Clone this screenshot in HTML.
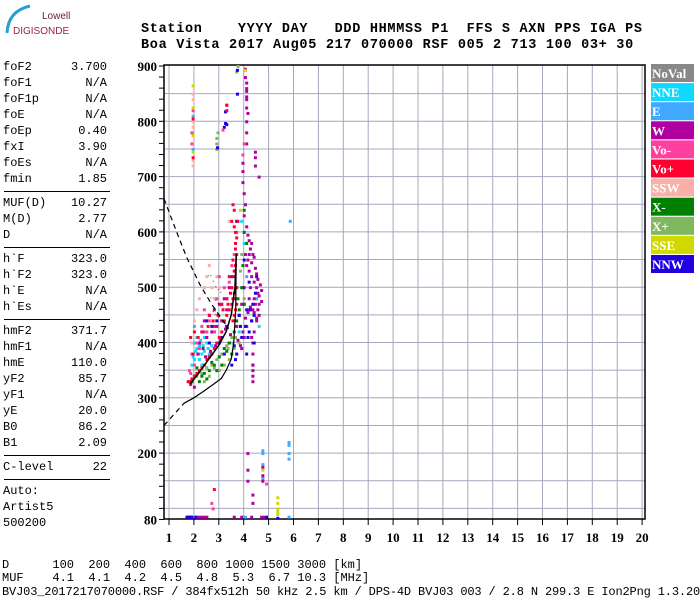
<!DOCTYPE html>
<html><head><meta charset="utf-8"><style>
body{margin:0;background:#fff;width:700px;height:600px;overflow:hidden;position:relative;font-family:"Liberation Mono",monospace}
.t{position:absolute;font-size:12px;color:#000;white-space:pre;line-height:12px}
.hd{position:absolute;font-family:"Liberation Mono",monospace;font-weight:bold;font-size:13.5px;white-space:pre;left:141px;letter-spacing:0.7px}
.hr{position:absolute;left:4px;width:106px;height:1px;background:#000}
</style></head><body>
<div style="position:absolute;left:2px;top:3px;width:80px;height:36px">
<svg width="80" height="36"><path d="M5 30 Q6 8 28 3" stroke="#2aa0d0" stroke-width="3" fill="none"/>
<text x="40" y="16" font-family="Liberation Sans" font-size="10" fill="#6a2040">Lowell</text>
<text x="11" y="31" font-family="Liberation Sans" font-size="10" fill="#9a2050">DIGISONDE</text></svg></div>
<div class="hd" style="top:22px">Station    YYYY DAY   DDD HHMMSS P1  FFS S AXN PPS IGA PS</div>
<div class="hd" style="top:38px">Boa Vista 2017 Aug05 217 070000 RSF 005 2 713 100 03+ 30</div>
<div id="left"></div>
<svg id="chart" width="700" height="600" style="position:absolute;left:0;top:0"></svg>
<div class="t" style="left:2px;top:559px">D      100  200  400  600  800 1000 1500 3000 [km]</div>
<div class="t" style="left:2px;top:572px">MUF    4.1  4.1  4.2  4.5  4.8  5.3  6.7 10.3 [MHz]</div>
<div class="t" style="left:2px;top:586px;letter-spacing:-0.15px">BVJ03_2017217070000.RSF / 384fx512h 50 kHz 2.5 km / DPS-4D BVJ03 003 / 2.8 N 299.3 E Ion2Png 1.3.20</div>
<script>
const paramNames=["foF2","foF1","foF1p","foE","foEp","fxI","foEs","fmin","MUF(D)","M(D)","D","h`F","h`F2","h`E","h`Es","hmF2","hmF1","hmE","yF2","yF1","yE","B0","B1","C-level","Auto:","Artist5","500200"];
const paramVals=["3.700","N/A","N/A","N/A","0.40","3.90","N/A","1.85","10.27","2.77","N/A","323.0","323.0","N/A","N/A","371.7","N/A","110.0","85.7","N/A","20.0","86.2","2.09","22","","",""];
const paramY=[61,77,93,109,125,141,157,173,197,213,229,253,269,285,301,325,341,357,373,389,405,421,437,461,485,501,517];
const left=document.getElementById('left');
paramNames.forEach((n,i)=>{
 const a=document.createElement('div');a.className='t';a.style.left='3px';a.style.top=paramY[i]+'px';a.textContent=n;
 
 
 left.appendChild(a);
 const b=document.createElement('div');b.className='t';b.style.left='40px';b.style.width='67px';b.style.textAlign='right';b.style.top=paramY[i]+'px';b.textContent=paramVals[i];
 
 
 left.appendChild(b);
});
[191,247,319,455,479].forEach(y=>{const h=document.createElement('div');h.className='hr';h.style.top=y+'px';
 
 
 left.appendChild(h);});

const X0=169,XS=24.9,Y0=66,YS=0.553;
const fx=f=>X0+(f-1)*XS, hy=h=>Y0+(900-h)*YS;
const xTicks=[1,2,3,4,5,6,7,8,9,10,11,12,13,14,15,16,17,18,19,20];
const yTicks=[900,800,700,600,500,400,300,200];
const wF=[4.05,4.05,4.1,4.1,4.1,4.1,4.15,4.45,4.45,4.45,4.6,3.95,3.95,3.95,4.0,4.05,4.0,4.1,4.15,4.2,4.3,4.35,4.05,4.1,4.2,4.3,4.4,4.5,4.55,4.45,4.35,4.55,4.6,4.2,4.0,3.9,3.8,3.7,4.3,4.4,4.35,4.35,4.35,4.35,4.0,3.9,4.1,3.5,3.4,3.2,3.0,2.8,2.6,2.4,2.3,2.2,3.1,2.9,2.7,2.5,3.3,3.6,4.15,4.15,4.15,4.75,4.75,4.75,4.35,4.35,1.8,2.1,2.2,3.6,3.9,4.3,4.7,4.8,2.5,4.25,4.5,4.6,4.4,4.2,4.3,4.1,4.1,4.1,4.1,4.1,4.15,4.2,4.25,4.3,4.4,4.45,4.5,4.55,4.65,4.7,4.7,4.6,4.5,4.4,4.25,4.15,4.05,3.95,3.85,3.75,3.45,3.25,3.05,2.85,2.65,2.45,2.35,2.15,4.35,4.35,4.35,2.0,1.9,2.3,2.4];
const wH=[895,880,870,855,840,825,815,745,735,720,700,725,710,690,670,650,630,610,595,585,580,560,560,540,530,520,510,500,490,470,460,460,450,480,500,470,450,430,440,420,400,380,360,340,410,390,430,520,500,480,470,460,450,440,420,400,440,430,420,410,460,480,200,170,150,175,160,150,125,110,85,85,85,85,85,85,85,85,85,500,440,470,480,460,410,860,845,800,780,760,550,560,570,545,555,535,525,515,505,495,475,485,445,455,465,455,445,420,395,405,415,425,405,395,385,375,390,380,360,350,330,320,85,85,85,85];
const nnwF=[3.73,3.73,2.93,3.25,3.3,3.2,3.25,4.05,4.2,4.3,3.9,3.7,3.6,4.0,3.8,4.1,4.4,3.5,3.2,3.0,2.8,2.6,3.3,2.5,4.2,4.5,4.0,3.7,4.4,1.7,1.8,1.9,5.35,4.9,4.1,3.95,4.25,4.35,3.85,4.15,3.65,2.7,2.9,3.1,3.4,4.45,1.75,1.85,2.05];
const nnwH=[893,850,753,797,795,790,818,430,420,440,410,380,395,470,450,380,400,360,380,400,420,400,430,440,510,520,550,620,450,85,85,85,83,85,460,500,460,470,430,410,370,430,440,410,400,490,85,85,85];
const vpF=[3.65,3.65,3.7,3.65,3.6,3.7,3.6,3.55,3.5,3.7,3.4,3.3,3.2,3.1,3.0,2.9,2.8,2.7,2.6,2.5,2.4,2.3,2.2,2.1,2.0,1.9,1.8,1.85,2.0,2.6,3.3,3.3,3.5,3.55,3.6,1.95,1.95,2.8,1.85,3.1,2.8,3.65,3.75,1.75,3.6,3.7,3.65,3.55,3.6,3.45,3.35,3.15,2.95,2.75,2.55,2.35,2.15,1.95,3.5,3.4,3.3,3.6,3.55];
const vpH=[600,580,560,540,520,500,490,480,470,470,460,450,440,420,410,400,390,380,375,370,360,355,350,345,340,335,330,325,420,450,830,820,620,650,640,805,735,135,410,470,430,460,620,330,610,590,570,550,530,490,470,460,450,440,430,420,410,380,500,520,480,450,440];
const vmF=[1.9,1.9,1.95,3.3,3.15,2.7,2.75,4.9,3.7,3.6,3.5,3.4,2.9,2.5,2.2,2.0,1.8,1.9,2.3,3.0,3.2,2.4,4.0,3.95,2.1,2.6,2.8,3.1,3.3,3.5,1.85];
const vmH=[760,780,820,830,785,110,100,145,600,560,540,510,480,420,390,360,350,380,430,520,500,460,760,740,400,440,420,470,480,500,345];
const sswF=[1.95,1.95,1.95,1.95,1.95,1.95,1.95,2.5,2.4,2.2,2.1,2.0,2.6,2.9,3.0,1.9,2.1,2.3,3.4,2.7,2.8];
const sswH=[720,730,760,790,800,840,850,520,500,480,460,440,540,520,500,400,380,400,620,500,480];
const nneF=[2.0,2.1,2.2,2.3,2.4,2.5,2.2,2.0,2.6,2.7,1.9,2.4,2.1,3.9,4.0,4.05,4.4,4.6,3.8,2.3,2.15,2.25,2.35,2.45,2.05,1.95,2.55];
const nneH=[400,390,395,380,385,400,370,370,380,395,360,410,410,620,580,650,450,430,420,360,380,405,395,375,385,375,390];
const eF=[5.8,5.8,5.8,5.8,5.85,4.75,4.75,4.75,4.75,1.95,1.95,5.8,4.05,2.0,2.4,4.0,4.1,4.5];
const eH=[220,215,200,190,620,200,205,180,155,810,750,85,85,430,420,600,520,480];
const xmF=[2.0,2.2,2.4,2.6,2.8,3.0,3.2,3.4,3.6,3.7,3.8,3.9,3.95,4.0,4.0,4.1,2.1,2.5,1.9,3.1,4.0,3.5,2.3,2.7,2.9,3.3,3.75];
const xmH=[340,330,345,350,360,375,390,400,420,440,460,500,540,600,640,580,355,335,330,360,470,380,340,365,350,385,480];
const xpF=[2.9,2.9,2.95,2.9,2.1,2.3,2.5,2.7,2.9,3.1,3.3,3.5,3.7,3.8,3.6,3.4,3.2,2.6,2.4,3.0,3.85,3.9,3.75,3.7,4.0,3.8,2.2,2.8,3.35,3.55,3.65];
const xpH=[760,770,780,750,340,345,355,360,370,380,395,410,430,450,390,370,360,340,330,350,530,560,900,890,480,400,350,355,390,400,410];
const sseF=[1.95,1.95,1.95,1.95,5.35,5.35,5.35,5.35,5.35,4.75,4.05,3.85];
const sseH=[865,825,775,745,120,110,100,95,90,170,893,640];
const novF=[2.6,2.7,2.8,2.9,3.0,3.1,2.7,2.8,2.9,3.0,3.1,3.2,2.8,2.9,3.0,3.1,3.2,3.3];
const novH=[520,520,510,500,495,490,480,480,475,470,465,460,455,450,445,440,435,430];
const traceF=[1.85,2.2,2.6,3.0,3.3,3.5,3.65,3.7];
const traceH=[325,345,370,395,420,450,500,560];
const profF=[1.6,2.0,2.4,2.8,3.1,3.3,3.5,3.6,3.68,3.7];
const profH=[290,300,312,325,335,350,370,400,460,560];
const profDashF=[0.8,1.2,1.6];
const profDashH=[250,270,290];
const mufDashF=[0.8,1.28,1.7,2.25,2.7,3.1,3.4];
const mufDashH=[660,603,555,504,470,444,425];

const NS='http://www.w3.org/2000/svg',svg=document.getElementById('chart');
function el(t,a,p){const e=document.createElementNS(NS,t);for(const k in a)e.setAttribute(k,a[k]);(p||svg).appendChild(e);return e;}
const grid=el('g',{});


xTicks.forEach(f=>{el('line',{x1:fx(f),x2:fx(f),y1:65,y2:519,stroke:'#a4a8bc','stroke-width':1},grid);
 const t=el('text',{x:fx(f),y:542,'text-anchor':'middle','font-family':'Liberation Serif','font-weight':'bold','font-size':13},grid);t.textContent=f;
 
 
 el('line',{x1:fx(f),x2:fx(f),y1:519,y2:525,stroke:'#000'},grid);});
for(let h=100;h<=850;h+=50){el('line',{x1:164,x2:645,y1:hy(h),y2:hy(h),stroke:'#a4a8bc'},grid);}
for(let h=80;h<=900;h+=20){el('line',{x1:159,x2:164,y1:hy(h),y2:hy(h),stroke:'#000'},grid);}
yTicks.concat([80]).forEach(h=>{const t=el('text',{x:157,y:hy(h)+5,'text-anchor':'end','font-family':'Liberation Serif','font-weight':'bold','font-size':13},grid);t.textContent=h;
 
 });
el('rect',{x:164,y:65,width:481,height:454,fill:'none',stroke:'#000','stroke-width':1.5},grid);

function dots(F,H,col,name,s){s=s||3;const g=el('g',{fill:col});
 
 
 F.forEach((f,i)=>el('rect',{x:fx(f)-1,y:hy(H[i])-1,width:s,height:s},g));}
dots(novF,novH,'#444','series-noval',1);
dots(xpF,xpH,'#80b860','series-x-plus');
dots(sswF,sswH,'#f8b0a8','series-ssw');
dots(nneF,nneH,'#10d8ff','series-nne');
dots(eF,eH,'#40a8ff','series-e');
dots(wF,wH,'#b000a0','series-w');
dots(nnwF,nnwH,'#2000e0','series-nnw');
dots(xmF,xmH,'#008000','series-x-minus');
dots(vmF,vmH,'#ff40a0','series-vo-minus');
dots(vpF,vpH,'#ff0030','series-vo-plus');
dots(sseF,sseH,'#d0d800','series-sse');
function line(F,H,dash,name,w){const p=el('polyline',{points:F.map((f,i)=>fx(f)+','+hy(H[i])).join(' '),fill:'none',stroke:'#000','stroke-width':w||1.2,'stroke-dasharray':dash||'none'});
 
 }
line(traceF,traceH,null,'virtual-height-trace',1.5);
line(profF,profH,null,'true-height-profile');
line(profDashF,profDashH,'5,4','profile-extrapolation');
line(mufDashF,mufDashH,'5,4','muf-dashed-curve');

const legNames=["NoVal","NNE","E","W","Vo-","Vo+","SSW","X-","X+","SSE","NNW"];
const legCols=["#888888","#10d8ff","#40a8ff","#b000a0","#ff40a0","#ff0030","#f8b0a8","#008000","#80b860","#d0d800","#2000e0"];
legNames.forEach((n,i)=>{const g=el('g',{});
 
 
 const y=64+i*19.1;
 el('rect',{x:651,y:y,width:43,height:18,fill:legCols[i]},g);
 const t=el('text',{x:652,y:y+14,'font-family':'Liberation Serif','font-weight':'bold','font-size':13,fill:'#fff'},g);t.textContent=n;});
</script>
</body></html>
